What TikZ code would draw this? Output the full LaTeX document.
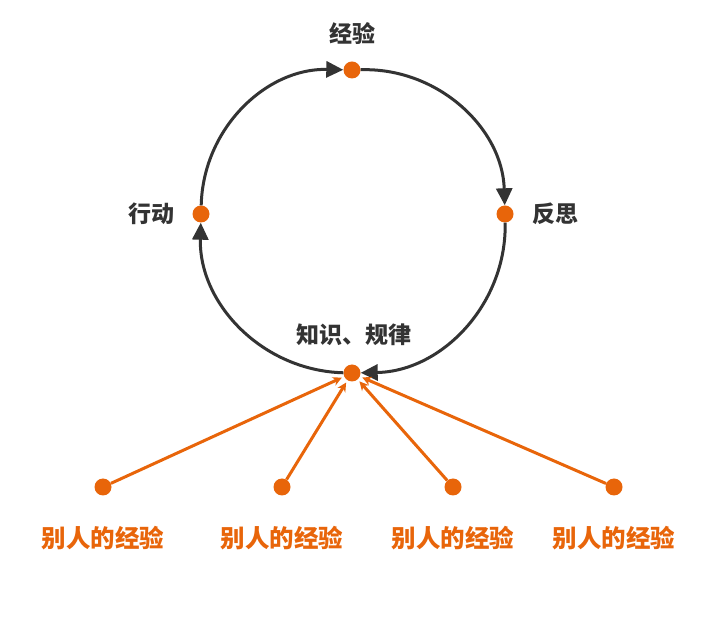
\documentclass[tikz,border=0pt]{standalone}
\usepackage{fontspec}
\newfontfamily\cjk{Noto Sans CJK SC}
\usetikzlibrary{arrows.meta}
\definecolor{arancio}{HTML}{E8650A}
\definecolor{scuro}{HTML}{333333}
\tikzset{
  punto/.style={circle, fill=arancio, inner sep=0pt, minimum size=17pt},
  testo/.style={font=\cjk\bfseries\fontsize{23}{27}\selectfont, text=scuro},
  altro/.style={font=\cjk\bfseries\fontsize{24.5}{28}\selectfont, text=arancio},
  ciclo/.style={draw=scuro, line width=3pt, -{Triangle[length=17pt,width=16pt]}},
  freccia/.style={draw=arancio, line width=3pt, -{Stealth[length=9pt,width=9pt]}, shorten >=2.5pt}
}
\begin{document}
\begin{tikzpicture}[x=1pt,y=1pt]
        \useasboundingbox (0,0) rectangle (720,621);

        % Punti del ciclo
        \node[punto] (esperienza) at (352,551) {};
        \node[punto] (riflessione) at (505,407) {};
        \node[punto] (regole) at (352,248) {};
        \node[punto] (azione) at (201,407) {};

        % Etichette del ciclo
        \node[testo] at (352,587) {经验};
        \node[testo, anchor=west] at (529,407) {反思};
        \node[testo] at (354,286) {知识、规律};
        \node[testo, anchor=east] at (178,407) {行动};

        % Archi del ciclo
        \draw[ciclo] (azione) to[bend left=45] (esperienza);
        \draw[ciclo] (esperienza) to[bend left=45] (riflessione);
        \draw[ciclo] (riflessione) to[bend left=45] (regole);
        \draw[ciclo] (regole) to[bend left=45] (azione);

        % Esperienze degli altri
        \foreach \n/\x in {a/103, b/282, c/453, d/614} {
            \node[punto] (altro\n) at (\x,134) {};
            \node[altro] at (\x,83) {别人的经验};
            \draw[freccia] (altro\n) -- (regole);
        }
    \end{tikzpicture}
\end{document}
